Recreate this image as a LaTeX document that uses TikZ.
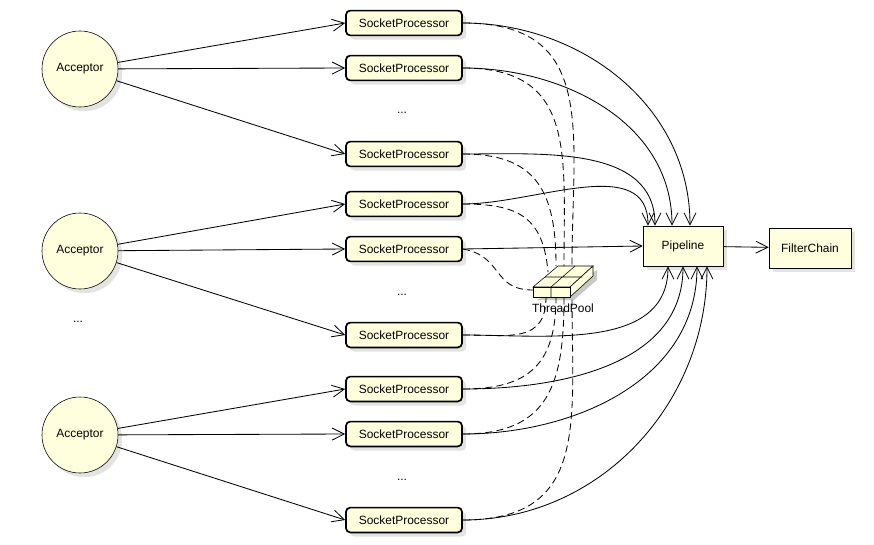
\documentclass[tikz,border=0pt]{standalone}
\usepackage{fontspec}
\setmainfont{Liberation Sans}
\usetikzlibrary{arrows.meta, positioning, calc, shadows}
\definecolor{nodefill}{HTML}{FFFFDD}
\definecolor{shadowgray}{HTML}{C8C8C8}

\begin{document}
\begin{tikzpicture}[
  x=0.025cm, y=-0.025cm,
  every node/.style={font=\fontsize{8.5}{10}\selectfont},
  acceptor/.style={circle, draw, fill=nodefill, minimum size=1.9cm, drop shadow={shadow xshift=3pt, shadow yshift=-3pt, fill=shadowgray}},
  procbox/.style={rectangle, rounded corners=3pt, draw, very thick, fill=nodefill, minimum width=2.9cm, minimum height=0.62cm, drop shadow={shadow xshift=3pt, shadow yshift=-3pt, fill=shadowgray}},
  stagebox/.style={rectangle, draw, fill=nodefill, minimum width=#1, minimum height=1.0cm, drop shadow={shadow xshift=3pt, shadow yshift=-3pt, fill=shadowgray}},
  flow/.style={-{Straight Barb[length=3mm, width=3mm]}, semithick},
  pooled/.style={semithick, dash pattern=on 5pt off 3pt, looseness=1.3},
]
\useasboundingbox (0,0) rectangle (874,545);

% Acceptors
\node[acceptor] (acc1) at (80,69) {Acceptor};
\node[acceptor] (acc2) at (80,251) {Acceptor};
\node[acceptor] (acc3) at (80,435) {Acceptor};
\node at (78,322) {...};

% Socket processors
\foreach \i/\y in {1/23, 2/68, 3/154, 4/204, 5/249, 6/335, 7/389, 8/434, 9/520}
  \node[procbox] (sp\i) at (404,\y) {SocketProcessor};
\node at (402,113) {...};
\node at (402,295) {...};
\node at (402,480) {...};

% Pipeline and filter chain
\node[stagebox=2.0cm] (pipe) at (683,246) {Pipeline};
\node[stagebox=2.05cm] (chain) at (810,248) {FilterChain};
\draw[flow] (pipe) -- (chain);

% Thread pool
\fill[shadowgray] (537,300) -- (574,300) -- (597,280) -- (597,270) -- cycle;
\draw[fill=nodefill] (533,287) -- (558,266) -- (593,266) -- (570,287) -- cycle;
\draw[fill=nodefill] (570,287) -- (593,266) -- (593,276) -- (570,297) -- cycle;
\draw[fill=nodefill] (533,287) rectangle (570,297);
\draw (551,287) -- (551,297) (551,287) -- (575,266) (545,277) -- (582,277);
\node (tplabel) at (563,308) {ThreadPool};

% Acceptor -> socket processors
\foreach \a/\p in {acc1/sp1, acc1/sp2, acc1/sp3, acc2/sp4, acc2/sp5, acc2/sp6, acc3/sp7, acc3/sp8, acc3/sp9}
  \draw[flow] (\a) -- (\p.west);

% Socket processors -> pipeline
\draw[flow] (sp1.east) to[out=0, in=90] ($(pipe.north)+(7,0)$);
\draw[flow] (sp2.east) to[out=0, in=90] ($(pipe.north)+(-11,0)$);
\draw[flow] (sp3.east) to[out=0, in=90] ($(pipe.north)+(-28,0)$);
\draw[flow] (sp4.east) to[out=0, in=90] ($(pipe.north)+(-35,0)$);
\draw[flow] (sp5.east) -- (pipe.west);
\draw[flow] (sp6.east) to[out=0, in=-90] ($(pipe.south)+(-15,0)$);
\draw[flow] (sp7.east) to[out=0, in=-90] (pipe.south);
\draw[flow] (sp8.east) to[out=0, in=-90] ($(pipe.south)+(14,0)$);
\draw[flow] (sp9.east) to[out=0, in=-90] ($(pipe.south)+(24,0)$);

% Socket processors -> thread pool
\draw[pooled] (sp1.east) to[out=0, in=90] (572,266);
\draw[pooled] (sp2.east) to[out=0, in=90] (564,266);
\draw[pooled] (sp3.east) to[out=0, in=90] (556,266);
\draw[pooled] (sp4.east) to[out=0, in=95] (548,272);
\draw[pooled] (sp5.east) to[out=-10, in=180] (533,290);
\draw[pooled] (sp6.east) to[out=0, in=-90] (546,297);
\draw[pooled] (sp7.east) to[out=0, in=-90] (556,297);
\draw[pooled] (sp8.east) to[out=0, in=-90] (564,297);
\draw[pooled] (sp9.east) to[out=0, in=-90] (572,297);
\end{tikzpicture}
\end{document}
